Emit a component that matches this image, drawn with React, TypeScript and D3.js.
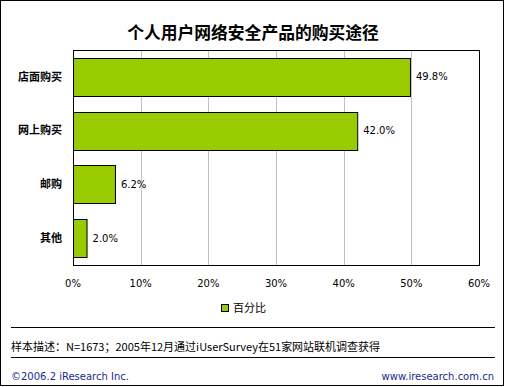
import * as d3 from "d3";

// Chart data
const categories = ["店面购买", "网上购买", "邮购", "其他"];
const values = [49.8, 42.0, 6.2, 2.0];
const xTicks = [0, 10, 20, 30, 40, 50, 60];
const seriesName = "百分比";
const title = "个人用户网络安全产品的购买途径";
const note = "样本描述：N=1673；2005年12月通过iUserSurvey在51家网站联机调查获得";
const copyright = "©2006.2 iResearch Inc.";
const site = "www.iresearch.com.cn";

const width = 505;
const height = 387;
const plot = { left: 73, right: 479, top: 50, bottom: 265 };
const barColor = "#99CC00";
const footerColor = "#1a2a8c";
const cjk = "'Noto Sans CJK SC', sans-serif";
const latin = "Tahoma, 'DejaVu Sans', sans-serif";

const App = () => {
  const x = d3.scaleLinear().domain([0, 60]).range([plot.left, plot.right]);
  const y = d3
    .scaleBand<string>()
    .domain(categories)
    .range([plot.top, plot.bottom])
    .paddingInner(0.29)
    .paddingOuter(0.145);

  return (
    <>
      <style>{`body{margin:0}`}</style>
      <svg width={width} height={height} style={{ display: "block", background: "#fff" }}>
        {/* outer frame */}
        <rect x={0.5} y={0.5} width={width - 2} height={height - 2} fill="#fff" stroke="#000" />

        <text
          x={253}
          y={39}
          textAnchor="middle"
          fontFamily={cjk}
          fontSize={16.8}
          fontWeight="bold"
        >
          {title}
        </text>

        {/* plot area */}
        <rect
          x={plot.left}
          y={plot.top}
          width={plot.right - plot.left}
          height={plot.bottom - plot.top}
          fill="#fff"
        />
        {xTicks.slice(1, -1).map(t => (
          <line
            key={t}
            x1={Math.round(x(t)) + 0.5}
            x2={Math.round(x(t)) + 0.5}
            y1={plot.top}
            y2={plot.bottom}
            stroke="#c0c0c0"
          />
        ))}

        {categories.map((c, i) => (
          <g key={c}>
            <rect
              x={x(0) + 0.5}
              y={Math.round(y(c) as number) + 0.5}
              width={x(values[i]) - x(0)}
              height={Math.round(y.bandwidth())}
              fill={barColor}
              stroke="#000"
            />
            <text
              x={x(values[i]) + 6}
              y={(y(c) as number) + y.bandwidth() / 2}
              dy="0.35em"
              fontFamily={latin}
              fontSize={10}
            >
              {values[i].toFixed(1)}%
            </text>
            <text
              x={62}
              y={(y(c) as number) + y.bandwidth() / 2}
              dy="0.35em"
              textAnchor="end"
              fontFamily={cjk}
              fontSize={11}
              fontWeight="bold"
            >
              {c}
            </text>
          </g>
        ))}

        <rect
          x={plot.left + 0.5}
          y={plot.top + 0.5}
          width={plot.right - plot.left}
          height={plot.bottom - plot.top}
          fill="none"
          stroke="#000"
        />

        {xTicks.map(t => (
          <text
            key={t}
            x={x(t)}
            y={287}
            textAnchor="middle"
            fontFamily={latin}
            fontSize={10}
          >
            {t}%
          </text>
        ))}

        {/* legend */}
        <rect x={221.5} y={304.5} width={7} height={7} fill={barColor} stroke="#000" />
        <text x={233} y={312} fontFamily={cjk} fontSize={11}>
          {seriesName}
        </text>

        <line x1={11} x2={495} y1={327.5} y2={327.5} stroke="#000" />
        <text x={11} y={351} fontFamily={cjk} fontSize={11}>
          {note}
        </text>
        <line x1={11} x2={495} y1={357.5} y2={357.5} stroke="#000" />

        <text x={11} y={380} fontFamily={latin} fontSize={10} fill={footerColor}>
          {copyright}
        </text>
        <text x={494} y={380} textAnchor="end" fontFamily={latin} fontSize={10} fill={footerColor}>
          {site}
        </text>
      </svg>
    </>
  );
};

export default App;
